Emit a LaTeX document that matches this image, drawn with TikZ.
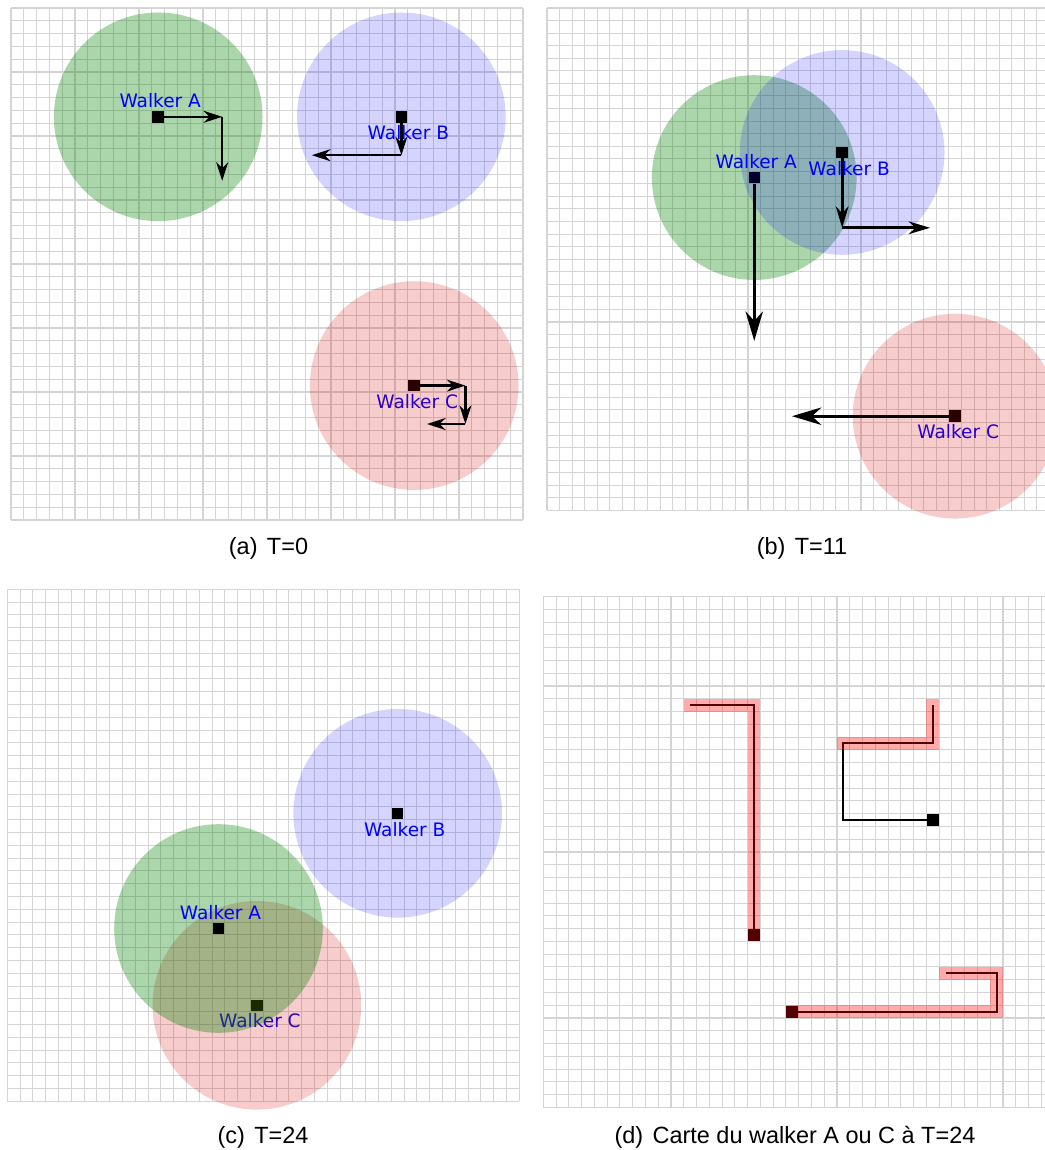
\documentclass[tikz,border=0pt]{standalone}
\usepackage{fontspec}
\setmainfont{Liberation Sans}
\newfontfamily\lblfont{DejaVu Sans}
\usetikzlibrary{arrows.meta}
\definecolor{walkblue}{RGB}{0,0,255}
\definecolor{gridc}{RGB}{212,212,212}
\definecolor{cgreen}{RGB}{0,128,0}
\definecolor{cblue}{RGB}{0,0,255}
\definecolor{cred}{RGB}{210,0,0}
\definecolor{hlred}{RGB}{255,0,0}
\begin{document}
\begin{tikzpicture}[x=0.75pt,y=-0.75pt,
  gridl/.style={draw=gridc, line width=0.8pt},
  sq/.style={rectangle, fill=black, inner sep=0pt, minimum size=8.6pt},
  lbl/.style={text=walkblue, font=\lblfont\fontsize{13.9pt}{16pt}\selectfont, inner sep=0pt, anchor=base},
  lblA/.style={lbl, xshift=1.5pt, yshift=6.75pt},
  lblB/.style={lbl, xshift=5.25pt, yshift=-17.25pt},
  lblC/.style={lbl, xshift=2.25pt, yshift=-16.9pt},
  zoneA/.style={fill=cgreen, fill opacity=0.33},
  zoneB/.style={fill=cblue, fill opacity=0.17},
  zoneC/.style={fill=cred, fill opacity=0.2},
  arrS/.style={line width=1.8pt, -{Stealth[length=14pt,width=9pt,inset=4.5pt]}},
  arrM/.style={line width=2.2pt, -{Stealth[length=16pt,width=9.5pt,inset=5pt]}},
  arrL/.style={line width=2.5pt, -{Stealth[length=22pt,width=13pt,inset=7pt]}},
  trail/.style={draw=black, line width=1.5pt},
  capt/.style={font=\fontsize{17.6pt}{20pt}\selectfont, anchor=base, inner sep=0pt}
]
\useasboundingbox (0,0) rectangle (1045,1150);
\clip (0,0) rectangle (1045,1150);
\fill[white] (0,0) rectangle (1045,1150);

% ---------------- panel (a) T=0
\begin{scope}[shift={(11,8)}, x=9.6pt, y=-9.6pt]
  \foreach \k in {0,...,40} {\draw[gridl] (\k,0) -- (\k,40); \draw[gridl] (0,\k) -- (40,\k);}
  \node[sq] (aC) at (31.5,29.5) {};
  \node[lblC] (laC) at (aC.center) {Walker C};
  \fill[zoneC] (31.5,29.5) circle[radius=8.15];
  \fill[zoneA] (11.5,8.5) circle[radius=8.15];
  \node[sq] (aA) at (11.5,8.5) {};
  \node[lblA] (laA) at (aA.center) {Walker A};
  \fill[zoneB] (30.5,8.5) circle[radius=8.15];
  \node[sq] (aB) at (30.5,8.5) {};
  \node[lblB] (laB) at (aB.center) {Walker B};
  \coordinate (aA1) at (16.5,8.5);
  \coordinate (aA2) at (16.5,13.5);
  \coordinate (aB1) at (30.5,11.5);
  \coordinate (aB2) at (23.5,11.5);
  \coordinate (aC1) at (35.5,29.5);
  \coordinate (aC2) at (35.5,32.5);
  \coordinate (aC3) at (32.5,32.5);
  \draw[arrS] (aA) -- (aA1);
  \draw[arrS] (aA1) -- (aA2);
  \draw[arrS] (aB) -- (aB1);
  \draw[arrS] (aB1) -- (aB2);
  \draw[arrS] (aC) -- (aC1);
  \draw[arrS] (aC1) -- (aC2);
  \draw[arrS] (aC2) -- (aC3);
\end{scope}

% ---------------- panel (b) T=11
\begin{scope}[shift={(547,8)}, x=9.42pt, y=-9.42pt]
  \foreach \k in {0,...,40} {\draw[gridl] (\k,0) -- (\k,40); \draw[gridl] (0,\k) -- (40,\k);}
  \node[sq] (bC) at (32.5,32.5) {};
  \node[lblC] (lbC) at (bC.center) {Walker C};
  \fill[zoneC] (32.5,32.5) circle[radius=8.15];
  \fill[zoneA] (16.5,13.5) circle[radius=8.15];
  \node[sq] (bA) at (16.5,13.5) {};
  \node[lblA] (lbA) at (bA.center) {Walker A};
  \fill[zoneB] (23.5,11.5) circle[radius=8.15];
  \node[sq] (bB) at (23.5,11.5) {};
  \node[lblB] (lbB) at (bB.center) {Walker B};
  \coordinate (bA1) at (16.5,26.5);
  \coordinate (bB1) at (23.5,17.5);
  \coordinate (bB2) at (30.5,17.5);
  \coordinate (bC1) at (19.5,32.5);
  \draw[arrL] (bA) -- (bA1);
  \draw[arrM] (bB) -- (bB1);
  \draw[arrM] (bB1) -- (bB2);
  \draw[arrL] (bC) -- (bC1);
\end{scope}

% ---------------- panel (c) T=24
\begin{scope}[shift={(7.3,589.3)}, x=9.6pt, y=-9.6pt]
  \foreach \k in {0,...,40} {\draw[gridl] (\k,0) -- (\k,40); \draw[gridl] (0,\k) -- (40,\k);}
  \node[sq] (cC) at (19.5,32.5) {};
  \node[lblC] (lcC) at (cC.center) {Walker C};
  \fill[zoneC] (19.5,32.5) circle[radius=8.15];
  \fill[zoneA] (16.5,26.5) circle[radius=8.15];
  \node[sq] (cA) at (16.5,26.5) {};
  \node[lblA] (lcA) at (cA.center) {Walker A};
  \fill[zoneB] (30.5,17.5) circle[radius=8.15];
  \node[sq] (cB) at (30.5,17.5) {};
  \node[lblB] (lcB) at (cB.center) {Walker B};
\end{scope}

% ---------------- panel (d) map
\begin{scope}[shift={(543.3,596.6)}, x=9.5775pt, y=-9.5775pt]
  \foreach \k in {0,...,40} {\draw[gridl] (\k,0) -- (\k,40); \draw[gridl] (0,\k) -- (40,\k);}
  \coordinate (dA0) at (11.5,8.5);
  \coordinate (dA1) at (16.5,8.5);
  \coordinate (dB0) at (30.5,8.5);
  \coordinate (dB1) at (30.5,11.5);
  \coordinate (dB2) at (23.5,11.5);
  \coordinate (dB3) at (23.5,17.5);
  \coordinate (dC0) at (31.5,29.5);
  \coordinate (dC1) at (35.5,29.5);
  \coordinate (dC2) at (35.5,32.5);
  \path (16.5,26.5) coordinate (dAe) (30.5,17.5) coordinate (dBe) (19.5,32.5) coordinate (dCe);
  \draw[trail] (dA0) -- (dA1) -- (dAe);
  \draw[trail] (dB0) -- (dB1) -- (dB2) -- (dB3) -- (dBe);
  \draw[trail] (dC0) -- (dC1) -- (dC2) -- (dCe);
  \node[sq, minimum size=9pt] (dA) at (dAe) {};
  \node[sq, minimum size=9pt] (dB) at (dBe) {};
  \node[sq, minimum size=9pt] (dC) at (dCe) {};
  \draw[draw=hlred, draw opacity=0.33, line width=9.5775pt, line cap=rect, line join=miter] (dA0) -- (dA1) -- (dA.center);
  \draw[draw=hlred, draw opacity=0.33, line width=9.5775pt, line cap=rect, line join=miter] (dB0) -- (dB1) -- (dB2);
  \draw[draw=hlred, draw opacity=0.33, line width=9.5775pt, line cap=rect, line join=miter] (dC0) -- (dC1) -- (dC2) -- (dC.center);
\end{scope}

% ---------------- captions
\node[capt] (capa) at (268.5,554) {(a)\hspace{0.4em}T=0};
\node[capt] (capb) at (802,554) {(b)\hspace{0.4em}T=11};
\node[capt] (capc) at (263,1143) {(c)\hspace{0.4em}T=24};
\node[capt] (capd) at (795,1143) {(d)\hspace{0.4em}Carte du walker A ou C à T=24};
\end{tikzpicture}
\end{document}
